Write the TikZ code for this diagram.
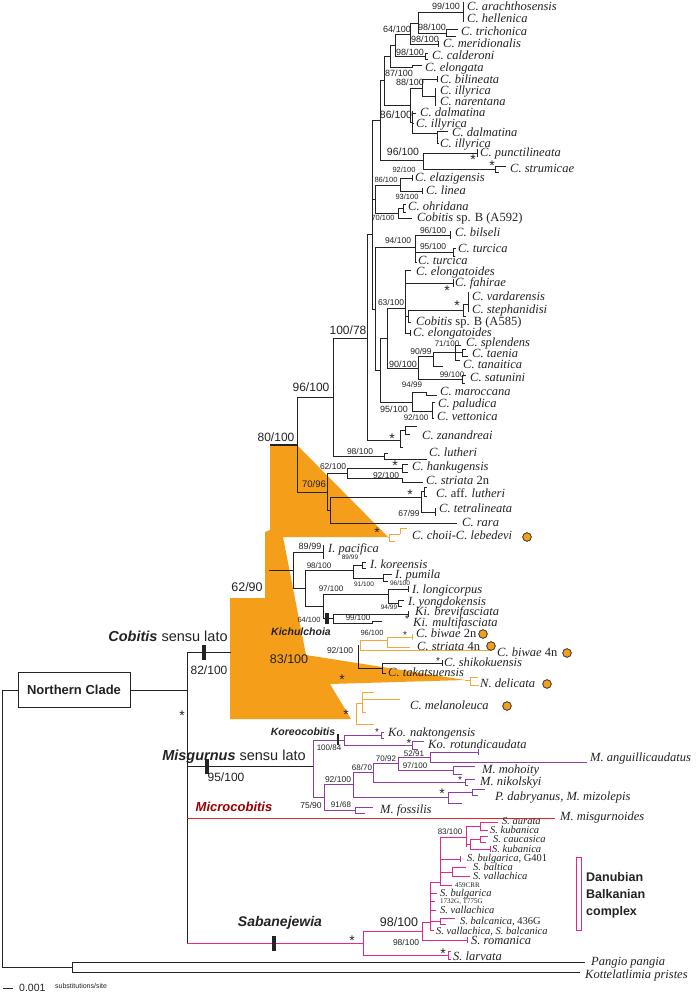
\documentclass[tikz,border=0pt]{standalone}
\usepackage{fontspec}
\setmainfont{Liberation Serif}
\setsansfont{Liberation Sans}
\usepackage{graphicx}
\definecolor{orfill}{RGB}{244,158,26}
\definecolor{orline}{RGB}{244,168,58}
\definecolor{pur}{RGB}{142,62,160}
\definecolor{redl}{RGB}{230,35,30}
\definecolor{mag}{RGB}{228,38,143}
\definecolor{ink}{RGB}{35,35,35}
\tikzset{
  br/.style={line width=0.8pt, draw=ink},
  orl/.style={line width=0.9pt, draw=orline},
  pl/.style={line width=0.9pt, draw=pur},
  ml/.style={line width=0.9pt, draw=mag},
  barl/.style={line width=3.2pt, draw=ink},
  tip/.style={font=\fontsize{12.5}{13}\selectfont\itshape, anchor=base west, inner sep=0pt, yshift=-3.7pt, text=ink},
  stip/.style={font=\fontsize{10.5}{11}\selectfont\itshape, anchor=base west, inner sep=0pt, yshift=-3pt, text=ink},
  tinyl/.style={font=\fontsize{7}{7}\selectfont, anchor=base west, inner sep=0pt, yshift=-2.4pt, text=ink},
  sv/.style={font=\sffamily\fontsize{#1}{#1}\selectfont, inner sep=0pt, text=ink},
  astk/.style={font=\sffamily\fontsize{#1}{#1}\selectfont, inner sep=0pt, yshift={-0.217*#1}, text=ink},
  dot/.style={fill=orfill, draw=black!75, line width=0.6pt},
  gname/.style={font=\sffamily\bfseries\itshape\fontsize{#1}{#1}\selectfont, inner sep=0pt, text=ink}
}
\newcommand\tipl[4]{\node[tip] (#1) at (#2,#3) {#4};}
\newcommand\stipl[4]{\node[stip] (#1) at (#2,#3) {#4};}
\newcommand\supv[5]{\node[sv=#2] (#1) at (#3,#4) {#5};}
\newcommand\astr[4]{\node[astk=#2] (#1) at (#3,#4) {*};}
\begin{document}
\begin{tikzpicture}[x=1pt,y=-1pt]
\useasboundingbox (0,0) rectangle (698,996);
\fill[white] (0,0) rectangle (698,996);
% orange area
\fill[orfill] (270,445) -- (297,445) -- (388,537) -- (283,537) -- (306,655) -- (465,680) -- (330,684) -- (351,719) -- (230,719) -- (230,598) -- (265,598) -- (265,532) -- (270,530) -- cycle;

% ---------- upper Cobitis ----------
\draw[br]
 (418,12)--(463,12) (463,2)--(463,22)
 (418,33)--(446,33) (446,29)--(446,36) (446,29)--(458,29) (446,36)--(456,36)
 (418,12)--(418,33) (410,23)--(418,23)
 (410,23)--(410,44) (410,44)--(438,44) (438,41)--(438,47)
 (395,34)--(410,34) (395,34)--(395,56) (395,56)--(425,56) (425,53)--(425,59) (425,53)--(428,53) (425,59)--(428,59)
 (390,45)--(395,45) (390,45)--(390,67) (390,67)--(412,67)--(412,65)--(422,65)
 (384,56)--(390,56) (384,56)--(384,105) (384,105)--(410,105)
 (410,88)--(410,122) (410,88)--(422,88) (422,79)--(422,96) (422,79)--(437,79) (437,76)--(437,82) (422,96)--(435,96) (435,88)--(435,106)
 (410,122)--(412,122) (412,111)--(412,133) (412,113)--(416,113) (412,123)--(414,123) (412,133)--(437,133) (437,131)--(437,143) (437,131)--(448,131) (437,143)--(439,143)
 (380,80)--(384,80) (380,80)--(380,160) (380,160)--(423,160) (423,153)--(423,169) (423,153)--(477,153) (477,149)--(477,157) (423,169)--(495,169) (495,166)--(495,172) (495,166)--(506,166) (495,172)--(499,172)
 (400,178)--(400,191) (400,178)--(412,178) (412,175)--(412,181) (400,191)--(422,191) (422,188)--(422,194) (375,185)--(400,185)
 (398,208)--(398,218) (398,208)--(403,208) (403,204)--(403,212) (403,204)--(406,204) (403,212)--(406,212) (398,218)--(412,218) (375,213)--(398,213)
 (375,185)--(375,213) (372,199)--(375,199)
 (415,235)--(415,262) (415,235)--(450,235) (450,231)--(450,239) (415,252)--(453,252) (453,248)--(453,256) (453,248)--(456,248) (453,256)--(455,256) (415,262)--(417,262) (375,247)--(415,247)
 (405,270)--(405,333) (405,270)--(411,270) (405,283)--(453,283) (453,279)--(453,287) (405,316)--(408,316) (408,310)--(408,322) (408,322)--(411,322) (408,310)--(463,310) (463,304)--(463,316) (463,304)--(468,304) (468,292)--(468,312) (463,316)--(466,316) (405,333)--(410,333) (410,330)--(410,336)
 (387,308)--(405,308) (387,308)--(387,368) (387,368)--(418,368)
 (418,356)--(418,379) (418,356)--(433,356) (433,352)--(433,366) (433,352)--(455,352) (455,345)--(455,360) (455,345)--(461,345) (455,352)--(462,352) (462,349)--(462,356) (462,349)--(466,349) (462,356)--(468,356) (455,360)--(460,360) (433,366)--(443,366) (418,379)--(462,379) (462,375)--(462,383) (462,375)--(466,375) (462,383)--(465,383)
 (380,338)--(380,402) (380,338)--(387,338) (380,402)--(412,402)
 (412,392)--(412,411) (412,392)--(426,392)--(426,395)--(437,395) (412,411)--(432,411) (432,402)--(432,418) (432,402)--(435,402) (432,418)--(434,418)
 (375,247)--(375,370) (375,370)--(380,370)
 (372,120)--(380,120) (372,120)--(372,309) (372,309)--(375,309)
 (367,234)--(367,440) (367,234)--(372,234) (367,440)--(400,440)
 (400,430)--(400,447) (400,430)--(405,430) (405,426)--(405,434) (405,426)--(417,426) (405,434)--(410,434) (400,447)--(403,447)
 (333,338)--(333,456) (333,338)--(367,338) (333,456)--(384,456) (384,453)--(384,459) (384,453)--(388,453) (384,459)--(427,459)
 (297,397)--(297,492) (297,397)--(333,397) (297,492)--(327,492)
 (327,473)--(327,510) (327,473)--(347,473) (347,468)--(347,478) (347,468)--(402,468) (402,464)--(402,472) (402,464)--(408,464) (402,472)--(408,472) (347,478)--(402,478) (402,478)--(402,482) (402,482)--(423,482)
 (327,510)--(330,510) (330,497)--(330,523) (330,497)--(421,497) (421,491)--(421,512) (421,491)--(424,491) (424,487)--(424,496) (424,487)--(427,487) (424,496)--(427,496) (421,512)--(435,512) (435,508)--(435,516) (330,523)--(457,523);
\draw[line width=1.5pt, ink] (270,445)--(297,445);
% choii orange
\draw[orl] (388,537)--(389,537) (389,534)--(389,541) (389,541)--(395,541) (389,534)--(400,534) (400,528)--(400,534) (400,528)--(407,528);

% ---------- Iksookimia / Kichulchoia ----------
\draw[br]
 (269,570)--(293,570) (293,552)--(293,588) (293,552)--(323,552) (323,545)--(323,559)
 (293,588)--(305,588) (305,570)--(305,606) (305,570)--(353,570) (353,565)--(353,578) (353,565)--(362,565) (362,562)--(362,568) (362,562)--(366,562) (362,568)--(366,568) (353,578)--(383,578) (383,574)--(383,581) (383,574)--(392,574) (383,581)--(388,581)
 (305,606)--(323,606) (323,594)--(323,618) (323,594)--(388,594) (388,589)--(388,603) (388,589)--(408,589) (408,586)--(408,592) (388,603)--(398,603) (398,600)--(398,606) (398,600)--(404,600) (398,606)--(402,606)
 (323,618)--(333,618) (333,614)--(333,623) (333,614)--(408,614) (408,611)--(408,617) (333,623)--(372,623)--(372,621)--(382,621)
 (358,645)--(358,668) (358,668)--(382,668) (382,663)--(382,673) (382,663)--(442,663) (442,660)--(442,666) (382,673)--(386,673);
\draw[barl] (327,613)--(327,624);
\draw[orl] (360,640)--(360,650) (360,640)--(387,640) (387,637)--(387,647) (387,637)--(412,637) (412,634)--(412,640) (387,647)--(410,647) (360,650)--(491,650)
 (465,680)--(470,680) (470,677)--(470,685) (470,677)--(478,677) (470,685)--(479,685)
 (356,703)--(356,724) (356,724)--(374,724) (356,703)--(362,703) (362,692)--(362,712) (362,692)--(374,692) (362,712)--(366,712) (362,699)--(400,699);

% ---------- root ----------
\draw[br] (2,690)--(2,967) (2,690)--(187,690) (187,652)--(187,943) (187,652)--(231,652)
 (2,967)--(72,967) (72,962)--(72,972) (72,962)--(585,962) (72,972)--(580,972)
 (187,766)--(313,766) (3,988)--(13,988);
\draw[barl] (204,645)--(204,660) (207,759)--(207,774) (274,936)--(274,951);

% ---------- Misgurnus ----------
\draw[pl] (313,740)--(313,797) (313,740)--(344,740) (344,735)--(344,745) (344,735)--(381,735) (381,732)--(381,738) (381,732)--(384,732) (381,738)--(384,738) (344,745)--(412,745) (412,741)--(412,749) (412,741)--(424,741) (412,749)--(418,749)
 (313,797)--(324,797) (324,784)--(324,810) (324,784)--(353,784) (353,772)--(353,797) (353,772)--(373,772) (373,763)--(373,782) (373,763)--(398,763) (398,757)--(398,770) (398,757)--(430,757) (430,752)--(430,762) (430,752)--(478,752) (478,749)--(478,755) (430,762)--(587,762) (398,770)--(453,770) (453,766)--(453,774) (453,766)--(475,766) (453,774)--(462,774) (373,782)--(465,782) (465,779)--(465,785) (465,779)--(475,779) (465,785)--(468,785) (353,797)--(448,797) (448,792)--(448,803) (448,792)--(472,792) (472,789)--(472,795) (472,789)--(485,789) (472,795)--(478,795) (448,803)--(462,803) (324,810)--(355,810) (355,807)--(355,813) (355,807)--(373,807) (355,813)--(365,813);
\draw[line width=2.6pt, ink] (338,734)--(338,745);
\draw[line width=0.9pt, redl] (187,818)--(555,818);

% ---------- Sabanejewia ----------
\draw[ml] (187,943)--(363,943) (363,931)--(363,955) (363,931)--(422,931) (422,922)--(422,940) (422,940)--(467,940) (467,937)--(467,943) (363,955)--(448,955) (448,951)--(448,959) (448,951)--(451,951) (448,959)--(451,959)
 (422,922)--(430,922) (430,882)--(430,930) (430,930)--(434,930) (430,921)--(440,921) (440,918)--(440,924) (440,918)--(455,918) (440,924)--(446,924) (430,910)--(436,910) (430,901)--(435,901) (430,893)--(437,893) (430,882)--(440,882) (440,837)--(440,885) (440,885)--(452,885) (440,872)--(452,872) (452,867)--(452,876) (452,867)--(466,867) (452,876)--(470,876) (440,859)--(460,859) (460,856)--(460,862) (440,837)--(466,837) (466,826)--(466,847) (466,826)--(480,826) (480,822)--(480,830) (480,822)--(498,822) (480,830)--(488,830) (466,844)--(470,844) (470,839)--(470,849) (470,839)--(480,839) (480,836)--(480,842) (480,836)--(488,836) (480,842)--(486,842) (470,849)--(490,849) (490,846)--(490,852);
\draw[barl] (274,936)--(274,951);
\draw[mag, line width=0.9pt] (576,857) rectangle (581,930);

% ---------- tip labels ----------
\tipl{t1}{467}{7}{C. arachthosensis}
\tipl{t2}{467}{19}{C. hellenica}
\tipl{t3}{461}{32}{C. trichonica}
\tipl{t4}{443}{44}{C. meridionalis}
\tipl{t5}{432}{56}{C. calderoni}
\tipl{t6}{425}{68}{C. elongata}
\tipl{t7}{440}{80}{C. bilineata}
\tipl{t8}{440}{91}{C. illyrica}
\tipl{t9}{440}{102}{C. narentana}
\tipl{t10}{420}{113}{C. dalmatina}
\tipl{t11}{416}{124}{C. illyrica}
\tipl{t12}{452}{133}{C. dalmatina}
\tipl{t13}{440}{144}{C. illyrica}
\tipl{t14}{480}{153}{C. punctilineata}
\tipl{t15}{510}{169}{C. strumicae}
\tipl{t16}{415}{178}{C. elazigensis}
\tipl{t17}{426}{191}{C. linea}
\tipl{t18}{408}{207}{C. ohridana}
\tipl{t19}{417}{218}{Cobitis \textup{sp. B (A592)}}
\tipl{t20}{455}{233}{C. bilseli}
\tipl{t21}{458}{249}{C. turcica}
\tipl{t22}{418}{261}{C. turcica}
\tipl{t23}{416}{272}{C. elongatoides}
\tipl{t24}{455}{283}{C. fahirae}
\tipl{t25}{472}{297}{C. vardarensis}
\tipl{t26}{472}{310}{C. stephanidisi}
\tipl{t27}{416}{322}{Cobitis \textup{sp. B (A585)}}
\tipl{t28}{413}{333}{C. elongatoides}
\tipl{t29}{466}{343}{C. splendens}
\tipl{t30}{472}{354}{C. taenia}
\tipl{t31}{463}{365}{C. tanaitica}
\tipl{t32}{470}{378}{C. satunini}
\tipl{t33}{440}{392}{C. maroccana}
\tipl{t34}{438}{404}{C. paludica}
\tipl{t35}{437}{417}{C. vettonica}
\tipl{t36}{422}{436}{C. zanandreai}
\tipl{t37}{429}{453}{C. lutheri}
\tipl{t38}{412}{467}{C. hankugensis}
\tipl{t39}{426}{481}{C. striata \textup{2n}}
\tipl{t40}{436}{494}{C. \textup{aff.} lutheri}
\tipl{t41}{439}{509}{C. tetralineata}
\tipl{t42}{462}{523}{C. rara}
\tipl{t43}{412}{536}{C. choii-C. lebedevi}
\tipl{t44}{328}{549}{I. pacifica}
\tipl{t45}{370}{565}{I. koreensis}
\tipl{t46}{395}{575}{I. pumila}
\tipl{t47}{412}{590}{I. longicorpus}
\tipl{t48}{408}{602}{I. yongdokensis}
\tipl{t49}{415}{612}{Ki. brevifasciata}
\tipl{t50}{413}{623}{Ki. multifasciata}
\tipl{t51}{416}{634}{C. biwae \textup{2n}}
\tipl{t52}{417}{647}{C. striata \textup{4n}}
\tipl{t53}{497}{653}{C. biwae \textup{4n}}
\tipl{t54}{444}{663}{C. shikokuensis}
\tipl{t55}{388}{673}{C. takatsuensis}
\tipl{t56}{480}{684}{N. delicata}
\tipl{t57}{410}{706}{C. melanoleuca}
\tipl{t58}{388}{733}{Ko. naktongensis}
\tipl{t59}{428}{745}{Ko. rotundicaudata}
\tipl{t60}{590}{758}{M. anguillicaudatus}
\tipl{t61}{482}{770}{M. mohoity}
\tipl{t62}{480}{782}{M. nikolskyi}
\tipl{t63}{495}{797}{P. dabryanus, M. mizolepis}
\tipl{t64}{380}{810}{M. fossilis}
\tipl{t65}{560}{817}{M. misgurnoides}
\stipl{s1}{502}{821}{S. aurata}
\stipl{s2}{490}{830}{S. kubanica}
\stipl{s3}{493}{839}{S. caucasica}
\stipl{s4}{492}{849}{S. kubanica}
\stipl{s5}{467}{858}{S. bulgarica, \textup{G401}}
\stipl{s6}{473}{867}{S. baltica}
\stipl{s7}{473}{876}{S. vallachica}
\node[tinyl] (s8) at (455,885) {459CRR};
\stipl{s9}{440}{893}{S. bulgarica}
\node[tinyl] (s10) at (440,901) {1732G, T775G};
\stipl{s11}{440}{910}{S. vallachica}
\stipl{s12}{460}{921}{S. balcanica, \textup{436G}}
\stipl{s13}{436}{931}{S. vallachica, S. balcanica}
\tipl{s14}{471}{941}{S. romanica}
\tipl{s15}{453}{957}{S. larvata}
\tipl{t66}{591}{962}{Pangio pangia}
\tipl{t67}{585}{975}{Kottelatlimia pristes}

% dots
\fill[dot] (527,537) circle (4.3) (483,634) circle (4.3) (491,646) circle (4.3) (567,653) circle (4.3) (547,684) circle (4.3) (507,706) circle (4.3);
\draw[black!75, line width=0.6pt] (527,537) circle (4.3) (483,634) circle (4.3) (491,646) circle (4.3) (567,653) circle (4.3) (547,684) circle (4.3) (507,706) circle (4.3);

% ---------- support values ----------
\supv{v1}{9}{446}{6}{99/100}
\supv{v2}{9}{432}{27}{98/100}
\supv{v3}{9}{397}{29}{64/100}
\supv{v4}{9}{425}{39}{98/100}
\supv{v5}{9}{410}{52}{98/100}
\supv{v6}{9}{399}{73}{87/100}
\supv{v7}{9}{410}{82}{88/100}
\supv{v8}{10.5}{396}{115}{86/100}
\supv{v9}{10.5}{403}{152}{96/100}
\supv{v10}{7.5}{404}{170}{92/100}
\supv{v11}{7.5}{386}{180}{86/100}
\supv{v12}{7.5}{407}{197}{93/100}
\supv{v13}{7.5}{383}{218}{70/100}
\supv{v14}{8.5}{433}{230}{96/100}
\supv{v15}{8.5}{398}{240}{94/100}
\supv{v16}{8.5}{433}{246}{95/100}
\supv{v17}{8.5}{391}{302}{63/100}
\supv{v18}{12}{348}{330}{100/78}
\supv{v19}{8}{447}{344}{71/100}
\supv{v20}{8.5}{421}{351}{90/99}
\supv{v21}{9}{403}{364}{90/100}
\supv{v22}{8}{452}{375}{99/100}
\supv{v23}{8}{412}{385}{94/99}
\supv{v24}{9}{394}{409}{95/100}
\supv{v25}{8}{416}{418}{92/100}
\supv{v26}{12}{311}{387}{96/100}
\supv{v27}{8.5}{360}{451}{98/100}
\supv{v28}{12}{276}{437}{80/100}
\supv{v29}{8.5}{333}{466}{62/100}
\supv{v30}{8.5}{386}{475}{92/100}
\supv{v31}{9.5}{314}{484}{70/96}
\supv{v32}{8.5}{409}{513}{67/99}
\supv{v33}{9}{310}{546}{89/99}
\supv{v34}{6.5}{350}{557}{89/99}
\supv{v35}{8}{319}{566}{98/100}
\supv{v36}{6.5}{364}{584}{91/100}
\supv{v37}{6.5}{400}{583}{96/100}
\supv{v38}{8}{331}{589}{97/100}
\supv{v39}{6.5}{389}{607}{94/99}
\supv{v40}{12.5}{247}{587}{62/90}
\supv{v41}{7.5}{309}{620}{64/100}
\supv{v42}{8}{358}{618}{99/100}
\supv{v43}{7.5}{372}{633}{96/100}
\supv{v44}{8.5}{340}{650}{92/100}
\supv{v45}{12.5}{289}{659}{83/100}
\supv{v46}{12}{209}{670}{82/100}
\supv{v47}{8}{329}{748}{100/84}
\supv{v48}{12}{226}{777}{95/100}
\supv{v49}{8}{386}{759}{70/92}
\supv{v50}{8}{414}{754}{52/91}
\supv{v51}{8}{415}{766}{97/100}
\supv{v52}{8}{362}{768}{68/70}
\supv{v53}{8.5}{338}{779}{92/100}
\supv{v54}{8.5}{311}{805}{75/90}
\supv{v55}{8}{341}{805}{91/68}
\supv{v56}{8}{450}{832}{83/100}
\supv{v57}{12.5}{399}{922}{98/100}
\supv{v58}{8.5}{406}{942}{98/100}

% ---------- stars ----------
\astr{a1}{14}{473}{157}
\astr{a2}{14}{492}{163}
\astr{a3}{14}{447}{288}
\astr{a4}{14}{457}{303}
\astr{a5}{14}{392}{436}
\astr{a6}{14}{395}{463}
\astr{a7}{14}{410}{492}
\astr{a8}{14}{377}{530}
\astr{a9}{10}{405}{633}
\astr{a10}{10}{407}{617}
\astr{a11}{10}{438}{659}
\astr{a12}{14}{342}{677}
\astr{a13}{14}{346}{712}
\astr{a14}{14}{182}{713}
\astr{a15}{10}{377}{730}
\astr{a16}{12}{409}{741}
\astr{a17}{10}{460}{778}
\astr{a18}{14}{442}{791}
\astr{a19}{14}{352}{938}
\astr{a20}{14}{443}{951}

% ---------- group names ----------
\node[font=\sffamily\fontsize{14.5}{14.5}\selectfont, inner sep=0pt, text=ink] (g1) at (168,636) {\textbf{\textit{Cobitis}} sensu lato};
\node[font=\sffamily\fontsize{14.5}{14.5}\selectfont, inner sep=0pt, text=ink] (g2) at (234,757) {\textbf{\textit{Misgurnus}} sensu lato};
\node[gname=10.5] (g3) at (301,632) {Kichulchoia};
\node[gname=10.5] (g4) at (303,732) {Koreocobitis};
\node[gname=13] (g5) at (234,807) {\textcolor{red!60!black}{Microcobitis}};
\node[gname=14] (g6) at (280,923) {Sabanejewia};
\node[draw=ink, line width=0.8pt, fill=white, font=\sffamily\bfseries\fontsize{13}{13}\selectfont, text=ink, minimum width=112pt, minimum height=35pt, inner sep=0pt] (nc) at (74,690) {Northern Clade};
\node[font=\sffamily\bfseries\fontsize{12.5}{17}\selectfont, text=ink, anchor=north west, align=left, inner sep=0pt] (dbc) at (586,872) {Danubian\\Balkanian\\complex};
\node[font=\sffamily\fontsize{10.5}{10.5}\selectfont, text=ink, anchor=west, inner sep=0pt] (sb1) at (19,988) {0.001};
\node[font=\sffamily\fontsize{7}{7}\selectfont, text=ink, anchor=west, inner sep=0pt] (sb2) at (55,986) {substitutions/site};
\end{tikzpicture}
\end{document}
